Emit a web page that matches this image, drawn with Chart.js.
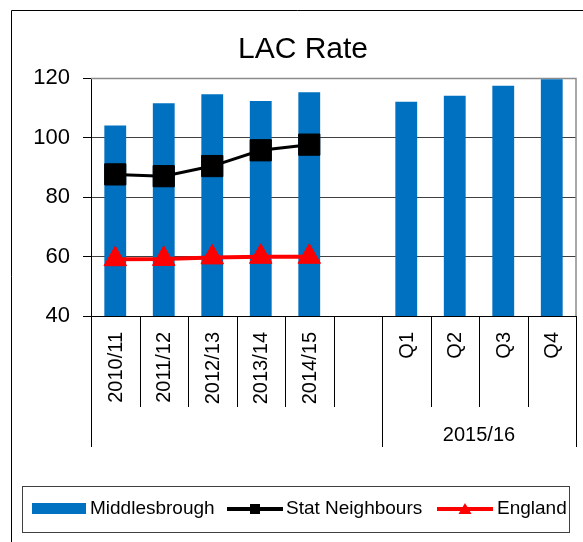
<!DOCTYPE html>
<html>
<head>
<meta charset="utf-8">
<script src="https://cdn.jsdelivr.net/npm/chart.js@4.4.1/dist/chart.umd.min.js"></script>
<style>
  html, body { margin: 0; padding: 0; background: #fff; }
  canvas { display: block; }
</style>
</head>
<body>
<canvas id="c" width="583" height="542"></canvas>
<script>
// ---- data ----
const categories = ['2010/11', '2011/12', '2012/13', '2013/14', '2014/15', '', 'Q1', 'Q2', 'Q3', 'Q4'];
const groupLabels = ['', '2015/16'];
const groupStarts = [0, 6];
const middlesbrough = [104.0, 111.5, 114.5, 112.3, 115.2, null, 112.0, 114.0, 117.4, 119.6];
const statNeighbours = [87.6, 87.0, 90.4, 95.7, 97.6, null, null, null, null, null];
const england = [59.1, 59.2, 59.7, 59.9, 59.9, null, null, null, null, null];
const yTicks = [40, 60, 80, 100, 120];
const titleText = 'LAC Rate';
const seriesNames = ['Middlesbrough', 'Stat Neighbours', 'England'];

const FONT = '"Liberation Sans", Arial, Helvetica, sans-serif';
const BLUE = '#0070C0';

const deco = {
  id: 'deco',
  beforeDraw(chart) {
    const ctx = chart.ctx;
    ctx.save();
    ctx.fillStyle = '#fff';
    ctx.fillRect(0, 0, chart.width, chart.height);
    // outer frame
    ctx.strokeStyle = '#000';
    ctx.lineWidth = 1;
    ctx.beginPath();
    ctx.moveTo(11.5, chart.height);
    ctx.lineTo(11.5, 10.5);
    ctx.lineTo(chart.width, 10.5);
    ctx.stroke();
    // title
    ctx.fillStyle = '#000';
    ctx.font = '30px ' + FONT;
    ctx.textAlign = 'center';
    ctx.textBaseline = 'alphabetic';
    ctx.fillText(titleText, 303, 58);
    ctx.restore();
  },
  beforeDatasetsDraw(chart) {
    const ctx = chart.ctx, ca = chart.chartArea;
    ctx.save();
    ctx.strokeStyle = '#8c8c8c';
    ctx.lineWidth = 1.5;
    ctx.beginPath();
    ctx.moveTo(ca.left, ca.top + 0.5);
    ctx.lineTo(ca.right, ca.top + 0.5);
    ctx.lineTo(ca.right, ca.bottom);
    ctx.stroke();
    ctx.restore();
  },
  afterDraw(chart) {
    const ctx = chart.ctx, ca = chart.chartArea, xs = chart.scales.x;
    const n = categories.length;
    ctx.save();
    // category boundaries
    const bounds = [];
    for (let i = 0; i <= n; i++) {
      if (i === 0) bounds.push(ca.left);
      else if (i === n) bounds.push(ca.right);
      else bounds.push((xs.getPixelForValue(i - 1) + xs.getPixelForValue(i)) / 2);
    }
    ctx.strokeStyle = '#000';
    ctx.lineWidth = 1;
    for (let i = 0; i <= n; i++) {
      const isGroup = groupStarts.includes(i) || i === n;
      const xx = Math.round(bounds[i]) + 0.5;
      ctx.beginPath();
      ctx.moveTo(xx, ca.bottom);
      ctx.lineTo(xx, isGroup ? 447 : 407);
      ctx.stroke();
    }
    // rotated category labels
    ctx.fillStyle = '#000';
    ctx.font = '20px ' + FONT;
    ctx.textAlign = 'right';
    ctx.textBaseline = 'middle';
    for (let i = 0; i < n; i++) {
      if (!categories[i]) continue;
      const cx = xs.getPixelForValue(i);
      ctx.save();
      ctx.translate(cx + 1, 332);
      ctx.rotate(-Math.PI / 2);
      ctx.fillText(categories[i], 0, 0);
      ctx.restore();
    }
    // group labels
    ctx.textAlign = 'center';
    ctx.textBaseline = 'alphabetic';
    ctx.font = '20px ' + FONT;
    for (let g = 0; g < groupLabels.length; g++) {
      if (!groupLabels[g]) continue;
      const s = groupStarts[g];
      const e = g + 1 < groupStarts.length ? groupStarts[g + 1] : n;
      const cx = (bounds[s] + bounds[e]) / 2;
      ctx.fillText(groupLabels[g], cx, 441);
    }
    // legend
    ctx.strokeStyle = '#404040';
    ctx.lineWidth = 1;
    ctx.strokeRect(22.5, 486.5, 547, 46);
    const ly = 509;
    ctx.font = '19px ' + FONT;
    ctx.textAlign = 'left';
    ctx.textBaseline = 'middle';
    // Middlesbrough
    ctx.fillStyle = BLUE;
    ctx.fillRect(32, 503, 54, 11);
    ctx.fillStyle = '#000';
    ctx.fillText(seriesNames[0], 90, ly);
    // Stat Neighbours
    ctx.strokeStyle = '#000';
    ctx.lineWidth = 4;
    ctx.beginPath(); ctx.moveTo(227, ly); ctx.lineTo(283, ly); ctx.stroke();
    ctx.fillRect(250, ly - 5, 10, 10);
    ctx.fillText(seriesNames[1], 286, ly);
    // England
    ctx.strokeStyle = '#ff0000';
    ctx.fillStyle = '#ff0000';
    ctx.beginPath(); ctx.moveTo(437, ly); ctx.lineTo(493, ly); ctx.stroke();
    ctx.beginPath();
    ctx.moveTo(465, ly - 6); ctx.lineTo(471.5, ly + 5); ctx.lineTo(458.5, ly + 5); ctx.closePath(); ctx.fill();
    ctx.fillStyle = '#000';
    ctx.fillText(seriesNames[2], 497, ly);
    ctx.restore();
  }
};

new Chart(document.getElementById('c'), {
  data: {
    labels: categories,
    datasets: [
      {
        type: 'line', label: seriesNames[1], data: statNeighbours,
        borderColor: '#000', backgroundColor: '#000', borderWidth: 3,
        pointStyle: 'rect', pointRadius: 15, pointBorderWidth: 1,
        pointBackgroundColor: '#000', pointBorderColor: '#000',
        spanGaps: false, order: 1
      },
      {
        type: 'line', label: seriesNames[2], data: england,
        borderColor: '#ff0000', backgroundColor: '#ff0000', borderWidth: 4,
        pointStyle: 'triangle', pointRadius: 13, pointBorderWidth: 1,
        pointBackgroundColor: '#ff0000', pointBorderColor: '#ff0000',
        spanGaps: false, order: 0
      },
      {
        type: 'bar', label: seriesNames[0], data: middlesbrough,
        backgroundColor: BLUE, borderWidth: 0,
        barPercentage: 0.45, categoryPercentage: 1.0, order: 2
      }
    ]
  },
  options: {
    responsive: false,
    animation: false,
    devicePixelRatio: 1,
    layout: { autoPadding: false, padding: { left: 0, right: 7, top: 78, bottom: 0 } },
    plugins: {
      legend: { display: false },
      title: { display: false },
      tooltip: { enabled: false }
    },
    scales: {
      x: {
        type: 'category',
        offset: true,
        grid: { display: false },
        border: { display: true, color: '#000', width: 1 },
        ticks: { display: false },
        afterFit: s => { s.height = 226; }
      },
      y: {
        min: 40, max: 120,
        afterBuildTicks: s => { s.ticks = yTicks.map(v => ({ value: v })); },
        grid: {
          color: ctx => (ctx.tick && ctx.tick.value === 120 ? '#8c8c8c' : '#404040'),
          lineWidth: 1,
          drawTicks: true,
          tickLength: 8,
          tickColor: '#000'
        },
        border: { display: true, color: '#000', width: 1 },
        ticks: {
          color: '#000',
          font: { family: FONT, size: 22 },
          padding: 13
        },
        afterFit: s => { s.width = 91; }
      }
    }
  },
  plugins: [deco]
});
</script>
</body>
</html>
